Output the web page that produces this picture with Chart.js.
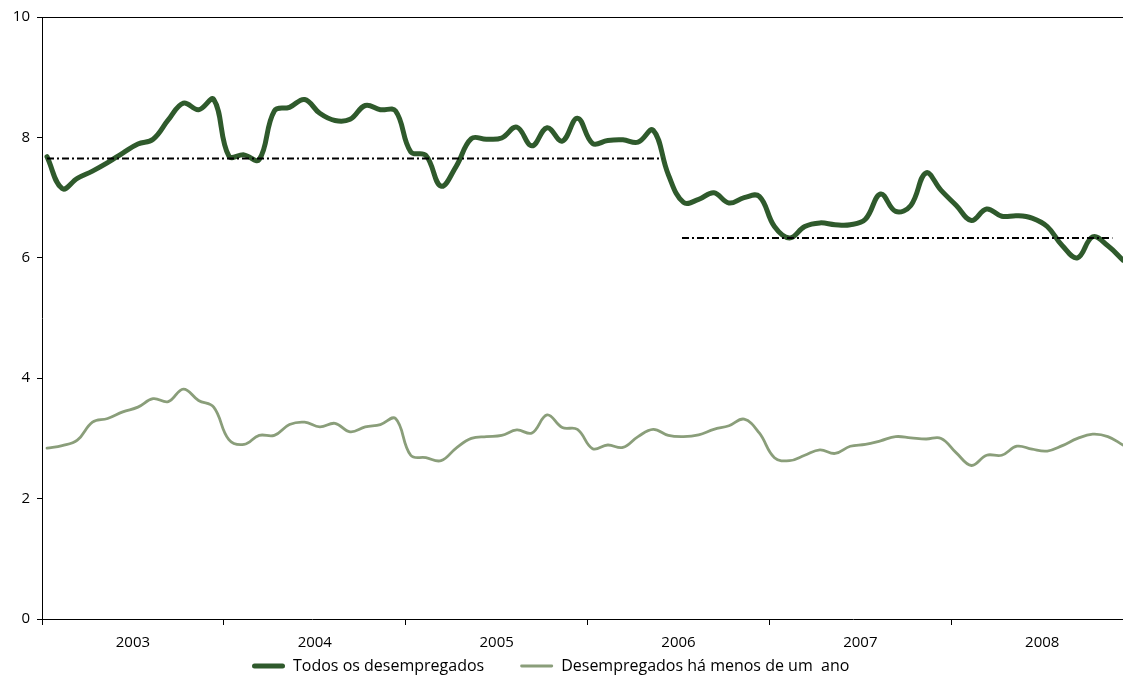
<!DOCTYPE html>
<html>
<head>
<meta charset="utf-8">
<script src="https://cdn.jsdelivr.net/npm/chart.js@4/dist/chart.umd.min.js"></script>
<style>
html,body{margin:0;padding:0;background:#fff;}
#wrap{width:1123px;height:678px;position:relative;}
</style>
</head>
<body>
<div id="wrap"><canvas id="c" width="1123" height="678"></canvas></div>
<script>
// ---- data ----
const years = ['2003','2004','2005','2006','2007','2008'];
const yTicks = [0, 2, 4, 6, 8, 10];
// monthly values, Jan 2003 .. Dec 2008
const todosDesempregados = [
  7.68, 7.15, 7.32, 7.44, 7.58, 7.74, 7.89, 7.97, 8.29, 8.57, 8.46, 8.63,
  7.69, 7.71, 7.63, 8.44, 8.50, 8.63, 8.40, 8.28, 8.30, 8.53, 8.46, 8.44,
  7.76, 7.70, 7.19, 7.52, 7.98, 7.97, 7.99, 8.17, 7.86, 8.16, 7.94, 8.32,
  7.90, 7.95, 7.96, 7.92, 8.12, 7.38, 6.92, 6.97, 7.08, 6.91, 7.00, 7.02,
  6.52, 6.33, 6.52, 6.58, 6.55, 6.55, 6.64, 7.06, 6.77, 6.87, 7.41, 7.12,
  6.87, 6.62, 6.81, 6.69, 6.70, 6.66, 6.52, 6.20, 6.00, 6.35, 6.20, 5.96
];
const menosDeUmAno = [
  2.84, 2.88, 2.97, 3.27, 3.33, 3.44, 3.52, 3.66, 3.61, 3.82, 3.63, 3.52,
  2.98, 2.90, 3.05, 3.05, 3.23, 3.27, 3.19, 3.25, 3.11, 3.19, 3.23, 3.33,
  2.72, 2.68, 2.63, 2.84, 3.00, 3.03, 3.05, 3.14, 3.09, 3.39, 3.18, 3.15,
  2.83, 2.89, 2.85, 3.03, 3.15, 3.05, 3.03, 3.06, 3.15, 3.21, 3.32, 3.09,
  2.68, 2.63, 2.72, 2.81, 2.75, 2.87, 2.90, 2.96, 3.03, 3.01, 2.99, 3.00,
  2.76, 2.55, 2.72, 2.72, 2.87, 2.82, 2.79, 2.88, 3.00, 3.07, 3.03, 2.89
];
// period averages of "Todos os desempregados" (month index from / to)
const mediaInicio = [0, 41.9];
const mediaFim = [40.6, 70.3];
const mediaValor = [7.65, 6.33];

// ---- chart ----
const yearStart = -0.33; // month index at which each year boundary falls
const FAMILY = "'Open Sans', 'Noto Sans', sans-serif";
const FONT = {family: FAMILY, size: 15};

const xTickValues = [];
for (let k = 0; k < years.length; k++) {
  xTickValues.push(yearStart + 12 * k);
  xTickValues.push(yearStart + 12 * k + 6);
}
function isBoundary(v) {
  const r = ((v - yearStart) % 12 + 12) % 12;
  return r < 0.01 || r > 11.99;
}

const toXY = arr => arr.map((v, i) => ({x: i, y: v}));

const datasets = [];
for (let p = 0; p < mediaValor.length; p++) {
  datasets.push({
    label: 'media' + p,
    data: [{x: mediaInicio[p], y: mediaValor[p]}, {x: mediaFim[p], y: mediaValor[p]}],
    borderColor: '#000',
    borderWidth: 2,
    borderDash: [7, 3, 2, 3],
    pointRadius: 0,
    tension: 0,
    fill: false,
    inLegend: false
  });
}
datasets.push({
  label: 'Todos os desempregados',
  data: toXY(todosDesempregados),
  borderColor: '#2f5a2c',
  backgroundColor: '#2f5a2c',
  borderWidth: 5,
  borderCapStyle: 'round',
  borderJoinStyle: 'round',
  pointRadius: 0,
  tension: 0.4,
  fill: false,
  inLegend: true
});
datasets.push({
  label: 'Desempregados há menos de um  ano',
  data: toXY(menosDeUmAno),
  borderColor: '#8a9e7a',
  backgroundColor: '#8a9e7a',
  borderWidth: 2.8,
  borderCapStyle: 'round',
  borderJoinStyle: 'round',
  pointRadius: 0,
  tension: 0.4,
  fill: false,
  inLegend: true
});

// custom bottom legend (line sample + text)
const legendPlugin = {
  id: 'bottomLegend',
  afterDraw(chart) {
    const ctx = chart.ctx;
    const sampleW = 33, gapText = 8, gapItem = 36;
    const y = 666;
    let x = 252;
    ctx.save();
    ctx.font = '16px ' + FAMILY;
    ctx.textBaseline = 'middle';
    ctx.fillStyle = '#000';
    chart.data.datasets.forEach(ds => {
      if (!ds.inLegend) return;
      ctx.beginPath();
      ctx.strokeStyle = ds.borderColor;
      ctx.lineWidth = ds.borderWidth;
      ctx.lineCap = 'round';
      ctx.moveTo(x + ds.borderWidth / 2, y);
      ctx.lineTo(x + sampleW - ds.borderWidth / 2, y);
      ctx.stroke();
      x += sampleW + gapText;
      ctx.fillText(ds.label, x, y);
      x += ctx.measureText(ds.label).width + gapItem;
    });
    ctx.restore();
  }
};

new Chart(document.getElementById('c'), {
  type: 'line',
  data: {datasets},
  plugins: [legendPlugin],
  options: {
    responsive: false,
    devicePixelRatio: 1,
    animation: false,
    layout: {padding: {top: 17, right: 0, left: 0, bottom: 26}},
    plugins: {
      tooltip: {enabled: false},
      legend: {display: false}
    },
    scales: {
      x: {
        type: 'linear',
        min: yearStart,
        max: todosDesempregados.length - 1,
        afterBuildTicks: scale => { scale.ticks = xTickValues.map(v => ({value: v})); },
        afterFit: scale => { scale.height = 33; },
        ticks: {
          autoSkip: false,
          maxRotation: 0,
          padding: 9,
          color: '#000',
          font: FONT,
          callback: function (v) {
            if (isBoundary(v)) return '';
            return years[Math.round((v - yearStart - 6) / 12)];
          }
        },
        grid: {
          drawOnChartArea: false,
          tickLength: 6,
          tickColor: ctx => (ctx.tick && isBoundary(ctx.tick.value)) ? '#000' : 'rgba(0,0,0,0)',
          tickWidth: 1
        },
        border: {color: '#000', width: 1}
      },
      y: {
        min: 0,
        max: 10,
        afterBuildTicks: scale => { scale.ticks = yTicks.map(v => ({value: v})); },
        afterFit: scale => { scale.width = 42; },
        ticks: {
          padding: 7,
          color: '#000',
          font: FONT
        },
        grid: {
          color: ctx => (ctx.tick && ctx.tick.value === 10) ? '#000' : 'rgba(0,0,0,0)',
          tickColor: '#000',
          tickLength: 5,
          lineWidth: 1
        },
        border: {color: '#000', width: 1}
      }
    }
  }
});
</script>
</body>
</html>
